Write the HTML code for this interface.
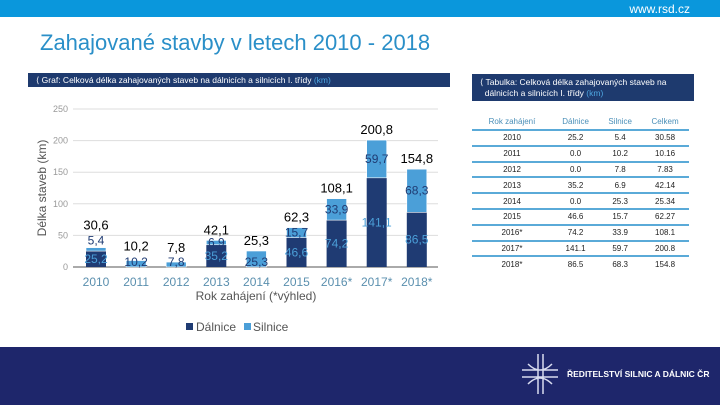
<!DOCTYPE html>
<html><head><meta charset="utf-8"><style>
body{margin:0;width:720px;height:405px;overflow:hidden;background:#fff;font-family:"Liberation Sans",sans-serif;position:relative}
.abs{position:absolute}
table{border-collapse:collapse}
</style></head><body>
<div class="abs" style="left:0;top:0;width:720px;height:17px;background:#0a97dc"></div>
<div class="abs" style="right:30px;top:2px;color:#fff;font-size:12px">www.rsd.cz</div>
<div class="abs" style="left:40px;top:30px;color:#2a8fc8;font-size:22px">Zahajované stavby v letech 2010 - 2018</div>
<div class="abs" style="left:28px;top:73px;width:422px;height:14px;background:#1e3a6e;color:#fff;font-size:8.5px;line-height:14px;padding-left:8px;box-sizing:border-box">⟨ Graf: Celková délka zahajovaných staveb na dálnicích a silnicích I. třídy <span style="color:#4ea6e0">(km)</span></div>
<div class="abs" style="left:472px;top:74px;width:222px;height:27px;background:#1e3a6e;color:#fff;font-size:8.5px;line-height:11px;padding:3px 8px;box-sizing:border-box">⟨ Tabulka: Celková délka zahajovaných staveb na<br>&nbsp;&nbsp;dálnicích a silnicích I. třídy <span style="color:#4ea6e0">(km)</span></div>
<svg class="abs" style="left:0;top:0" width="470" height="345" id="chart"></svg>
<div class="abs" style="left:472px;top:114px">
<table id="tbl" style="width:217px;font-size:8px;color:#222;text-align:center"></table></div>
<div class="abs" style="left:0;top:347px;width:720px;height:58px;background:#1e266b"></div>
<svg class="abs" style="left:520px;top:352px" width="40" height="44">
<g stroke="#d8dcf0" stroke-width="1.5" fill="none"><path d="M18 2v40M23 2v40M2 18h36M2 25h36M8 12c8 8 16 8 24 0M8 32c8-8 16-8 24 0"/></g></svg>
<div class="abs" style="left:567px;top:369px;color:#fff;font-size:8.5px;font-weight:bold">ŘEDITELSTVÍ SILNIC A DÁLNIC ČR</div>
<script>
const categories=["2010","2011","2012","2013","2014","2015","2016*","2017*","2018*"];
const dalnice=[25.2,0,0,35.2,0,46.6,74.2,141.1,86.5];
const silnice=[5.4,10.2,7.8,6.9,25.3,15.7,33.9,59.7,68.3];
const totals=[30.6,10.2,7.8,42.1,25.3,62.3,108.1,200.8,154.8];
const yTicks=[0,50,100,150,200,250];
const dalLabels=["25,2","","","35,2","","46,6","74,2","141,1","86,5"];
const silLabels=["5,4","10,2","7,8","6,9","25,3","15,7","33,9","59,7","68,3"];
const totLabels=["30,6","10,2","7,8","42,1","25,3","62,3","108,1","200,8","154,8"];
const tblYears=["2010","2011","2012","2013","2014","2015","2016*","2017*","2018*"];
const tblD=["25.2","0.0","0.0","35.2","0.0","46.6","74.2","141.1","86.5"];
const tblS=["5.4","10.2","7.8","6.9","25.3","15.7","33.9","59.7","68.3"];
const tblC=["30.58","10.16","7.83","42.14","25.34","62.27","108.1","200.8","154.8"];
const NS="http://www.w3.org/2000/svg";
const svg=document.getElementById('chart');
const y=v=>267-v*0.632;
const x=i=>96+i*40.1;
function mk(t,a,txt){const e=document.createElementNS(NS,t);for(const k in a)e.setAttribute(k,a[k]);if(txt!==undefined)e.textContent=txt;svg.appendChild(e);return e;}
yTicks.forEach(t=>{
 const g=mk('line',{x1:73,x2:438,y1:y(t),y2:y(t),stroke:t?'#ddd':'#aaa','stroke-width':t?1:2});
 
 const l=mk('text',{x:68,y:y(t)+3,'text-anchor':'end','font-size':9,fill:'#999'},t);
 
});
categories.forEach((c,i)=>{
 const bw=20,cx=x(i);
 const b1=mk('rect',{x:cx-bw/2,y:y(dalnice[i]),width:bw,height:y(0)-y(dalnice[i]),fill:'#1f3b73'});
 
 const b2=mk('rect',{x:cx-bw/2,y:y(dalnice[i]+silnice[i]),width:bw,height:y(dalnice[i])-y(dalnice[i]+silnice[i]),fill:'#4b9fd8',stroke:'#fff','stroke-width':0.6});
 
 if(dalLabels[i]){const t=mk('text',{x:cx,y:y(dalnice[i]/2)+4,'text-anchor':'middle','font-size':12,fill:'#4b9fd8'},dalLabels[i]);}
 const sy=Math.min(y(dalnice[i]+silnice[i]/2)+4,y(0)-2);
 const t2=mk('text',{x:cx,y:dalnice[i]?y(dalnice[i]+silnice[i]/2)+4:y(0)-1,'text-anchor':'middle','font-size':12,fill:'#1f3b73'},silLabels[i]);
 if(i===0)t2.setAttribute('y',y(dalnice[i]+silnice[i])-3);
 
 const ty=i===0?y(totals[i])-18:(i<3?y(totals[i])-10:y(totals[i])-6);
 const t3=mk('text',{x:cx,y:ty,'text-anchor':'middle','font-size':13,fill:'#000'},totLabels[i]);
 
 const xl=mk('text',{x:cx,y:286,'text-anchor':'middle','font-size':12,fill:'#5a8fae'},c);
 
});
let e=mk('text',{x:256,y:300,'text-anchor':'middle','font-size':12,fill:'#555'},'Rok zahájení (*výhled)');

e=mk('text',{x:0,y:0,transform:'translate(46,188) rotate(-90)','text-anchor':'middle','font-size':12,fill:'#555'},'Délka staveb (km)');

e=mk('rect',{x:186,y:323,width:7,height:7,fill:'#1f3b73'});
e=mk('text',{x:196,y:331,'font-size':12,fill:'#555'},'Dálnice');
e=mk('rect',{x:244,y:323,width:7,height:7,fill:'#4b9fd8'});
e=mk('text',{x:253,y:331,'font-size':12,fill:'#555'},'Silnice');
const tbl=document.getElementById('tbl');
let h='<tr style="color:#4a8fb8;height:16px"><td>Rok zahájení</td><td>Dálnice</td><td>Silnice</td><td>Celkem</td></tr>';
tblYears.forEach((yr,i)=>{h+='<tr style="height:15.8px;border-top:2px solid #5aaad8"><td>'+yr+'</td><td>'+tblD[i]+'</td><td>'+tblS[i]+'</td><td>'+tblC[i]+'</td></tr>';});
tbl.innerHTML=h;
</script>
</body></html>
